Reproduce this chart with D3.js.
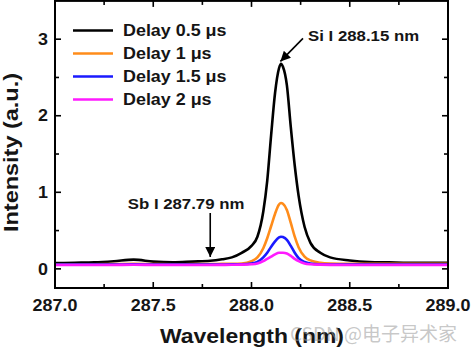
<!DOCTYPE html>
<html><head><meta charset="utf-8">
<script src="https://cdn.jsdelivr.net/npm/d3@7"></script>
<style>body{margin:0;background:#fff}svg{display:block}</style>
</head><body>
<svg id="c" width="475" height="354"></svg>
<script>
// ---- data ----
const wavelength = [287.0,287.1,287.2,287.3,287.4,287.5,287.6,287.7,287.79,287.85,287.9,287.95,288.0,288.03,288.06,288.08,288.1,288.12,288.14,288.15,288.16,288.18,288.2,288.22,288.24,288.27,288.3,288.35,288.4,288.5,288.6,288.7,288.8,288.9,289.0];
const delay05 = [0.075,0.08,0.085,0.10,0.12,0.095,0.085,0.095,0.105,0.125,0.15,0.21,0.30,0.42,0.75,1.15,1.75,2.3,2.62,2.68,2.64,2.4,1.85,1.35,0.95,0.55,0.34,0.21,0.15,0.11,0.09,0.085,0.08,0.08,0.08];
const delay1  = [0.06,0.06,0.06,0.062,0.065,0.062,0.06,0.062,0.063,0.065,0.066,0.07,0.10,0.15,0.27,0.40,0.56,0.72,0.84,0.86,0.85,0.77,0.60,0.42,0.28,0.16,0.11,0.08,0.07,0.065,0.065,0.065,0.065,0.065,0.065];
const delay15 = [0.055,0.055,0.055,0.056,0.058,0.056,0.055,0.056,0.056,0.057,0.058,0.06,0.07,0.09,0.15,0.21,0.29,0.36,0.41,0.42,0.415,0.38,0.30,0.21,0.14,0.09,0.07,0.06,0.057,0.055,0.055,0.055,0.055,0.055,0.055];
const delay2  = [0.05,0.05,0.05,0.051,0.053,0.051,0.05,0.05,0.051,0.052,0.053,0.055,0.06,0.07,0.10,0.13,0.16,0.19,0.21,0.21,0.21,0.20,0.17,0.13,0.10,0.07,0.06,0.055,0.052,0.05,0.05,0.05,0.05,0.05,0.05];
const seriesNames = ["Delay 0.5 \u03bcs","Delay 1 \u03bcs","Delay 1.5 \u03bcs","Delay 2 \u03bcs"];
const seriesColors = ["#000000","#ff8c1a","#1a1aff","#ff1aff"];
const xTicks = [287.0,287.5,288.0,288.5,289.0];
const xTickLabels = ["287.0","287.5","288.0","288.5","289.0"];
const xMinor = [287.25,287.75,288.25,288.75];
const yTicks = [0,1,2,3];
const yTickLabels = ["0","1","2","3"];
const yMinor = [0.5,1.5,2.5];
// annotations: [text x, text y, arrow from x, from y, to x, to y]
const annoSi = {text:"Si I 288.15 nm", tx:288.288, ty:2.98, x1:288.262, y1:3.01, x2:288.147, y2:2.71};
const annoSb = {text:"Sb I 287.79 nm", tx:287.667, ty:0.78, x1:287.79, y1:0.73, x2:287.79, y2:0.155};

// ---- layout ----
const L=55, R=448, T=0.9, B=288;
const x = d3.scaleLinear().domain([287,289]).range([L,R]);
const y = d3.scaleLinear().domain([-0.25,3.5]).range([B,T]);
const svg = d3.select("#c");
const F = "'Liberation Sans', Arial, sans-serif";
const SX = 1.12;
const txt = "#151515";

svg.append("defs").append("marker").attr("id","ah")
  .attr("viewBox","0 0 10 10").attr("refX",10).attr("refY",5)
  .attr("markerWidth",10).attr("markerHeight",10).attr("markerUnits","userSpaceOnUse")
  .attr("orient","auto")
  .append("path").attr("d","M0,0 L10,5 L0,10 Z").attr("fill","#000");

const clip = svg.append("clipPath").attr("id","pc").append("rect")
  .attr("x",L).attr("y",T).attr("width",R-L).attr("height",B-T);

const series = [delay05,delay1,delay15,delay2];
const line = d3.line().x((d,i)=>x(wavelength[i])).y(d=>y(d)).curve(d3.curveMonotoneX);
const g = svg.append("g").attr("clip-path","url(#pc)");
series.forEach((s,k)=>{
  g.append("path").attr("d",line(s)).attr("fill","none")
   .attr("stroke",seriesColors[k]).attr("stroke-width",2.6).attr("stroke-linejoin","round");
});

// frame
svg.append("rect").attr("x",L).attr("y",T).attr("width",R-L).attr("height",B-T)
  .attr("fill","none").attr("stroke","#000").attr("stroke-width",2);

// ticks (inward, all four sides)
const tk = svg.append("g").attr("stroke","#000").attr("stroke-width",1.6);
function xt(v,len){
  tk.append("line").attr("x1",x(v)).attr("x2",x(v)).attr("y1",B).attr("y2",B-len);
  tk.append("line").attr("x1",x(v)).attr("x2",x(v)).attr("y1",T).attr("y2",T+len);
}
function yt(v,len){
  tk.append("line").attr("y1",y(v)).attr("y2",y(v)).attr("x1",L).attr("x2",L+len);
  tk.append("line").attr("y1",y(v)).attr("y2",y(v)).attr("x1",R).attr("x2",R-len);
}
xTicks.forEach(v=>xt(v,6)); xMinor.forEach(v=>xt(v,4));
yTicks.forEach(v=>yt(v,6)); yMinor.forEach(v=>yt(v,4));

function stext(px,py,s,size,anchor,extra){
  const t = svg.append("text").attr("transform",`translate(${px},${py}) scale(${SX},1)`)
    .attr("font-family",F).attr("font-weight","bold").attr("font-size",size)
    .attr("fill",txt).attr("text-anchor",anchor).text(s);
  return t;
}
xTicks.forEach((v,i)=>stext(x(v),311,xTickLabels[i],16,"middle"));
yTicks.forEach((v,i)=>stext(48,y(v)+5.7,yTickLabels[i],16,"end"));

stext(252,343,"Wavelength (nm)",20.5,"middle");
svg.append("text").attr("transform","translate(18,152.5) rotate(-90)")
  .attr("font-family",F).attr("font-weight","bold").attr("font-size",21).attr("fill",txt)
  .attr("text-anchor","middle").attr("textLength",159).attr("lengthAdjust","spacingAndGlyphs")
  .text("Intensity (a.u.)");

// legend
seriesNames.forEach((n,i)=>{
  const ly = 30.5 + i*23;
  svg.append("line").attr("x1",73).attr("x2",113).attr("y1",ly).attr("y2",ly)
    .attr("stroke",seriesColors[i]).attr("stroke-width",2.6);
  stext(123,ly+5.5,n,16,"start");
});

// annotations
[annoSi,annoSb].forEach(a=>{
  svg.append("line").attr("x1",x(a.x1)).attr("y1",y(a.y1)).attr("x2",x(a.x2)).attr("y2",y(a.y2))
    .attr("stroke","#000").attr("stroke-width",1.6).attr("marker-end","url(#ah)");
});
stext(x(annoSi.tx),y(annoSi.ty),annoSi.text,15,"start");
stext(x(annoSb.tx),y(annoSb.ty),annoSb.text,15,"middle");

// watermark
svg.append("text").attr("x",290).attr("y",341)
  .attr("font-family","'Noto Sans CJK SC', sans-serif").attr("font-size",19)
  .attr("fill","#999").attr("fill-opacity",0.55).text("CSDN @电子异术家");
</script>
</body></html>
